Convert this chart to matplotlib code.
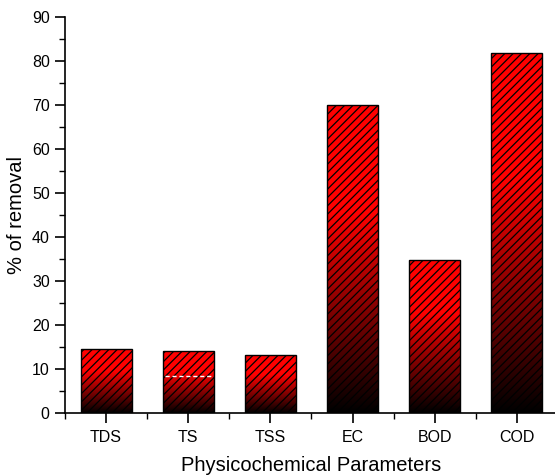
import numpy as np
import matplotlib
matplotlib.use("Agg")
import matplotlib.pyplot as plt
from matplotlib.colors import LinearSegmentedColormap
from matplotlib.ticker import MultipleLocator, FixedLocator

categories = ["TDS", "TS", "TSS", "EC", "BOD", "COD"]
removal = [14.6, 14.1, 13.3, 70.1, 34.8, 81.9]
ts_dash_value = 8.4  # white dashed line inside the TS bar
yticks = [0, 10, 20, 30, 40, 50, 60, 70, 80, 90]

plt.rcParams['font.family'] = ['Liberation Sans', 'DejaVu Sans']
plt.rcParams['hatch.color'] = 'black'
plt.rcParams['hatch.linewidth'] = 0.9

W, H = 555, 476
fig = plt.figure(figsize=(W / 100, H / 100), dpi=100)
ax = fig.add_axes([65 / W, (H - 413) / H, (558 - 65) / W, (413 - 17.3) / H])

cmap = LinearSegmentedColormap.from_list(
    "blkred", [(0.0, "#000000"), (0.65, "#ff0000"), (1.0, "#ff0000")])

x = np.arange(len(categories))
width = 0.62
bars = ax.bar(x, removal, width=width, facecolor='none', edgecolor='black',
              hatch='////', linewidth=1.0, zorder=3)

grad = np.linspace(0, 1, 256).reshape(-1, 1)
for rect in bars:
    x0 = rect.get_x()
    h = rect.get_height()
    im = ax.imshow(grad, cmap=cmap, origin='lower', aspect='auto',
                   extent=(x0, x0 + rect.get_width(), 0, h), zorder=2,
                   interpolation='bilinear')
    im.set_clip_path(rect)

ts_i = categories.index("TS")
ax.hlines(ts_dash_value, ts_i - width / 2 + 0.03, ts_i + width / 2 - 0.03,
          colors='white', linestyles=(0, (3, 2)), linewidth=1.0, zorder=4)

ax.set_xlim(-0.5, 5.5)
ax.set_ylim(0, 90)
ax.set_xticks(x)
ax.set_xticklabels(categories)
ax.xaxis.set_minor_locator(FixedLocator(np.arange(-0.5, 5.6, 1.0)))
ax.set_yticks(yticks)
ax.yaxis.set_minor_locator(MultipleLocator(5))

for s in ['top', 'right']:
    ax.spines[s].set_visible(False)
for s in ['left', 'bottom']:
    ax.spines[s].set_linewidth(1.2)

ax.tick_params(axis='both', which='major', direction='out', length=7, width=1.2,
               labelsize=11.5, pad=4)
ax.tick_params(axis='both', which='minor', direction='out', length=4, width=1.0)
ax.tick_params(axis='x', which='major', pad=5)

ax.set_xlabel("Physicochemical Parameters", fontsize=14.5, labelpad=8.5)
ax.set_ylabel("% of removal", fontsize=14.5, labelpad=4)

fig.savefig("out.png", dpi=100)
